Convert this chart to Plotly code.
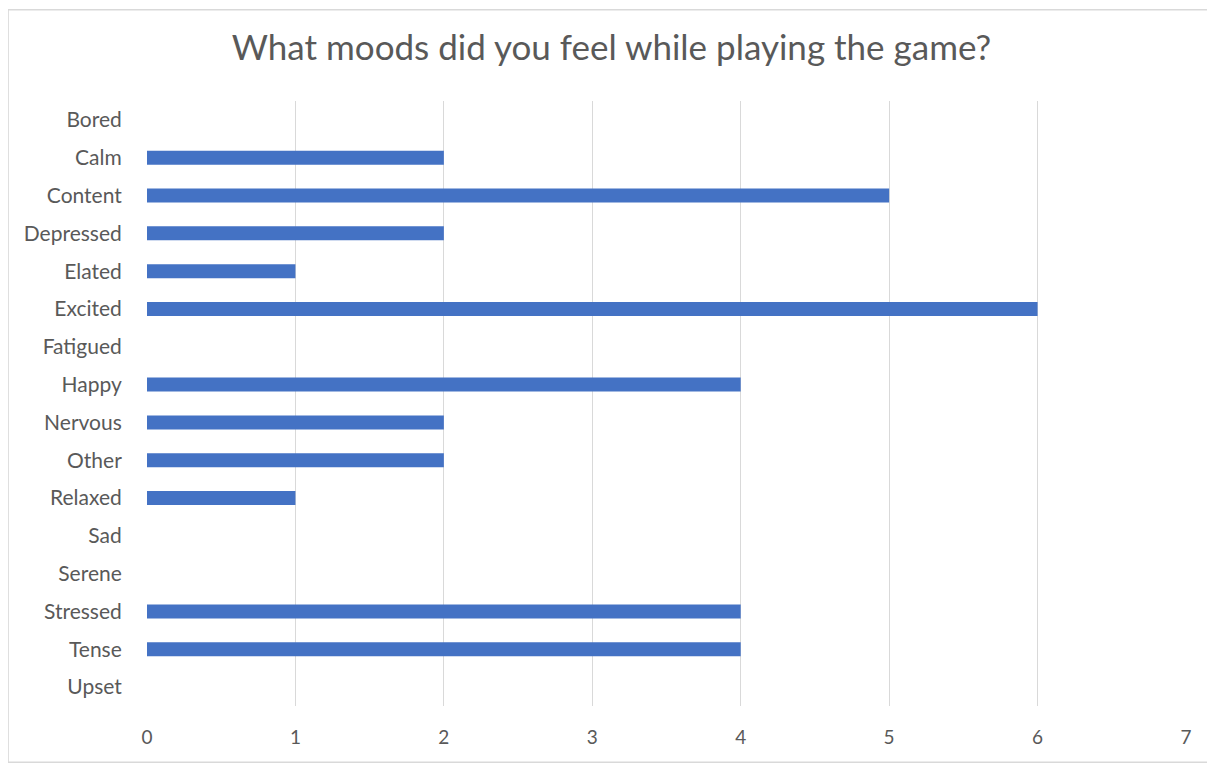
import plotly.graph_objects as go

moods = ['Bored', 'Calm', 'Content', 'Depressed', 'Elated', 'Excited', 'Fatigued', 'Happy',
         'Nervous', 'Other', 'Relaxed', 'Sad', 'Serene', 'Stressed', 'Tense', 'Upset']
counts = [0, 2, 5, 2, 1, 6, 0, 4, 2, 2, 1, 0, 0, 4, 4, 0]
x_ticks = [0, 1, 2, 3, 4, 5, 6, 7]

TXT = '#595959'
FONT = 'Lato, Open Sans, sans-serif'

fig = go.Figure()
fig.add_trace(go.Bar(y=moods, x=counts, orientation='h', width=0.37,
                     marker=dict(color='#4472C4', line=dict(width=0))))

fig.update_xaxes(range=[0, 7], tickvals=x_ticks, showgrid=True, gridcolor='#D9D9D9', gridwidth=1,
                 zeroline=False, showline=False, ticks='outside', ticklen=14, tickcolor='rgba(0,0,0,0)',
                 tickfont=dict(size=19, color=TXT, family=FONT))
fig.update_yaxes(autorange='reversed', showgrid=False, zeroline=False, showline=False,
                 ticks='outside', ticklen=20, tickcolor='rgba(0,0,0,0)',
                 tickfont=dict(size=21, color=TXT, family=FONT))
# page body has an 8px margin, so the figure is made 8px smaller and margins shifted
fig.update_layout(
    title=dict(text='What moods did you feel while playing the game?', x=0.5, xanchor='center',
               y=0.947, yanchor='middle', font=dict(size=35, color=TXT, family=FONT)),
    width=1207, height=757, margin=dict(l=139, r=29, t=93, b=59),
    paper_bgcolor='white', plot_bgcolor='white', showlegend=False, bargap=0.6,
    shapes=[dict(type='rect', xref='paper', yref='paper', x0=-0.1337, x1=1.0275, y0=-0.093, y1=1.151,
                 line=dict(color='#D9D9D9', width=1.5))],
)

fig.write_html('out.html')
